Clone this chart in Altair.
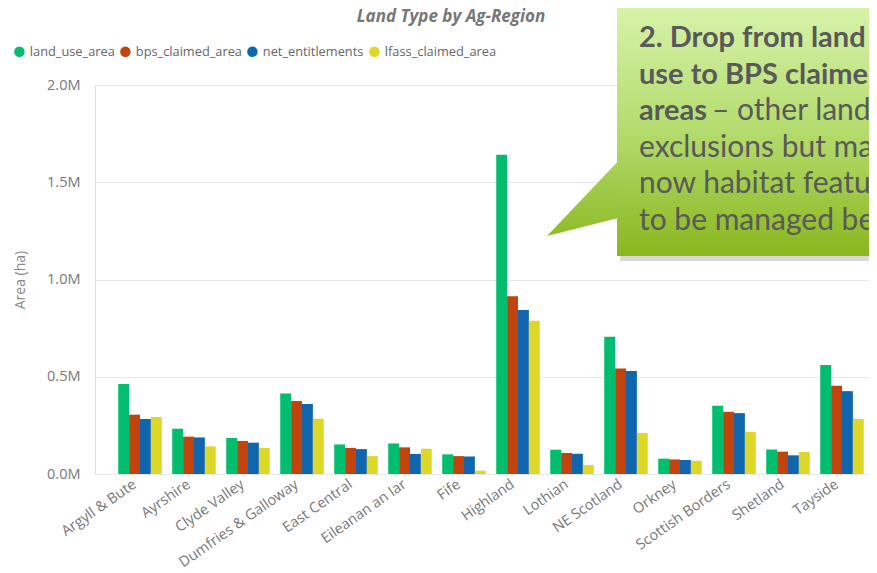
import altair as alt
import pandas as pd

regions = ["Argyll & Bute", "Ayrshire", "Clyde Valley", "Dumfries & Galloway", "East Central",
           "Eileanan an Iar", "Fife", "Highland", "Lothian", "NE Scotland", "Orkney",
           "Scottish Borders", "Shetland", "Tayside"]
series = ["land_use_area", "bps_claimed_area", "net_entitlements", "lfass_claimed_area"]
land_use_area = [463000, 233000, 185000, 414000, 152000, 157000, 101000, 1642000, 125000, 706000, 79000, 351000, 126000, 560000]
bps_claimed_area = [305000, 192000, 170000, 375000, 134000, 137000, 92000, 914000, 108000, 543000, 75000, 320000, 115000, 454000]
net_entitlements = [283000, 188000, 161000, 360000, 128000, 103000, 90000, 843000, 104000, 529000, 72000, 313000, 96000, 426000]
lfass_claimed_area = [293000, 142000, 134000, 284000, 92000, 130000, 17000, 788000, 46000, 211000, 68000, 217000, 113000, 283000]
colors = ["#01BE6E", "#C1440E", "#1066AE", "#DDD828"]
y_ticks = [0, 500000, 1000000, 1500000, 2000000]

title_text = "Land Type by Ag-Region"
callout_bold = ["2. Drop from land", "use to BPS claimed", "areas"]
callout_normal = ["– other land, ", "exclusions but may ", "now habitat features ", "to be managed better"]

rows = []
for name, vals in zip(series, [land_use_area, bps_claimed_area, net_entitlements, lfass_claimed_area]):
    for r, v in zip(regions, vals):
        rows.append({"region": r, "series": name, "value": v})
df = pd.DataFrame(rows)

FONT = "Open Sans"
X0, Y0 = 95, 85  # plot origin on the page

bars = alt.Chart(df).mark_bar().encode(
    x=alt.X("region:N", sort=regions,
            scale=alt.Scale(paddingInner=0.194, paddingOuter=0.2635, align=0.816),
            axis=alt.Axis(title=None, labelAngle=325, labelColor="#777777", labelFontSize=14.5,
                          labelFont=FONT, ticks=False, domain=False, labelPadding=3,
                          labelOffset=-9)),
    xOffset=alt.XOffset("series:N", sort=series, scale=alt.Scale(paddingInner=0, paddingOuter=0)),
    y=alt.Y("value:Q", scale=alt.Scale(domain=[0, 2000000]),
            axis=alt.Axis(values=y_ticks, labelExpr="format(datum.value/1e6,'.1f')+'M'",
                          grid=True, gridColor="#E8E8E8", domain=False, ticks=False,
                          labelPadding=15, labelColor="#777777", labelFontSize=14.5, labelFont=FONT,
                          title="Area (ha)", titleColor="#888888", titleFontSize=14,
                          titleFont=FONT, titleFontWeight="normal", titlePadding=19)),
    color=alt.Color("series:N", sort=series, scale=alt.Scale(domain=series, range=colors),
                    legend=alt.Legend(title=None, orient="none", direction="horizontal",
                                      legendX=13 - X0, legendY=45 - Y0, symbolType="circle",
                                      symbolSize=110, labelFontSize=12.8, labelFont=FONT,
                                      labelColor="#666666", labelOffset=4, columnPadding=4,
                                      symbolStrokeWidth=0)),
)

title = alt.Chart(pd.DataFrame({"t": [title_text]})).mark_text(
    font=FONT, fontSize=17, fontStyle="italic", fontWeight="bold", color="#777777",
    align="center", baseline="alphabetic").encode(
    text="t:N", x=alt.value(451 - X0), y=alt.value(22 - Y0))

box = pd.DataFrame({"k": [1]})
shadow = alt.Chart(box).mark_rect(color="#A0A0A0", opacity=0.4).encode(
    x=alt.value(620 - X0), x2=alt.value(900 - X0), y=alt.value(9 - Y0), y2=alt.value(261 - Y0))

tri_path = "M-0.8875,0.9875 L0.99,-0.9875 L0.99,0.5125 Z"
pointer = alt.Chart(box).mark_point(
    shape=tri_path, size=6400, filled=True, opacity=1,
    fill=alt.Gradient(gradient="linear", x1=0, y1=0, x2=0, y2=1,
                      stops=[alt.GradientStop(color="#AAD35E", offset=0),
                             alt.GradientStop(color="#8FBD2A", offset=1)]),
    strokeWidth=0).encode(x=alt.value(582.5 - X0), y=alt.value(196.5 - Y0))

rect = alt.Chart(box).mark_rect(
    fill=alt.Gradient(gradient="linear", x1=0, y1=0, x2=0, y2=1,
                      stops=[alt.GradientStop(color="#D7F3AA", offset=0),
                             alt.GradientStop(color="#B4DC6E", offset=0.5),
                             alt.GradientStop(color="#8AB61E", offset=1)])).encode(
    x=alt.value(617 - X0), x2=alt.value(900 - X0), y=alt.value(5 - Y0), y2=alt.value(256 - Y0))

baselines = [47, 84, 120, 157, 193, 230]
txt_layers = []
for i, line in enumerate(callout_bold):
    txt_layers.append(alt.Chart(pd.DataFrame({"t": [line]})).mark_text(
        font="Lato", fontSize=29, fontWeight="bold", color="#595959",
        align="left", baseline="alphabetic").encode(
        text="t:N", x=alt.value(639 - X0), y=alt.value(baselines[i] - Y0)))
for j, line in enumerate(callout_normal):
    xpos = 712 if j == 0 else 639
    txt_layers.append(alt.Chart(pd.DataFrame({"t": [line]})).mark_text(
        font="Lato", fontSize=30, fontWeight="normal", color="#595959",
        align="left", baseline="alphabetic").encode(
        text="t:N", x=alt.value(xpos - X0), y=alt.value(baselines[j + 2] - Y0)))

chart = alt.layer(bars, title, shadow, pointer, rect, *txt_layers).properties(
    width=774, height=389,
    autosize=alt.AutoSizeParams(type="none"),
    padding={"left": 87, "top": 77, "right": 0, "bottom": 94},
).configure_view(stroke=None).configure(background="white")

chart.save("out.html", embed_options={"renderer": "svg", "actions": False})
